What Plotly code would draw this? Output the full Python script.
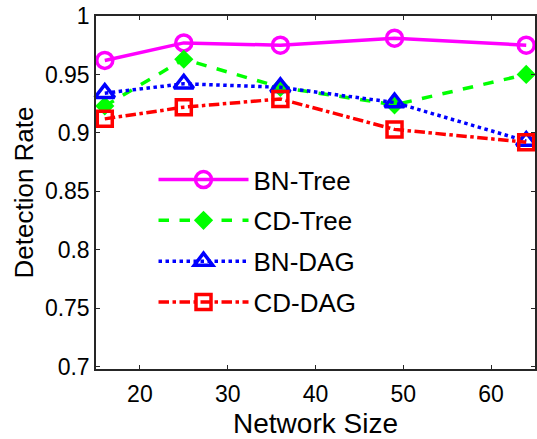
import plotly.graph_objects as go

network_size = [16, 25, 36, 49, 64]
bn_tree = [0.962, 0.977, 0.975, 0.981, 0.975]
cd_tree = [0.923, 0.963, 0.939, 0.924, 0.950]
bn_dag = [0.934, 0.942, 0.939, 0.926, 0.893]
cd_dag = [0.912, 0.922, 0.929, 0.903, 0.892]

series = [
    ("BN-Tree", bn_tree, "#ff00ff", "solid", "circle-open", 16),
    ("CD-Tree", cd_tree, "#00ff00", "dash", "diamond", 11),
    ("BN-DAG", bn_dag, "#0000ff", "dot", "triangle-up-open", 17),
    ("CD-DAG", cd_dag, "#ff0000", "dashdot", "square-open", 15),
]

fig = go.Figure()
for name, ys, color, dash, sym, size in series:
    fig.add_trace(go.Scatter(
        x=network_size, y=ys, name=name, legendgroup=name,
        mode="lines+markers",
        line=dict(color=color, width=3.5, dash=dash),
        marker=dict(symbol=sym, size=size, color=color,
                    line=dict(color=color, width=3.5)),
        cliponaxis=False,
    ))

font = "Liberation Sans, Arial, Helvetica, sans-serif"
axis_common = dict(
    showline=True, linecolor="#262626", linewidth=1.5, mirror="ticks",
    ticks="inside", ticklen=4, tickcolor="#262626", tickwidth=1,
    showgrid=False, zeroline=False, automargin=False,
    tickfont=dict(family=font, size=23, color="#000000"),
)

fig.update_layout(
    width=537, height=439,
    margin=dict(l=96, r=2, t=16, b=70),
    paper_bgcolor="white", plot_bgcolor="white",
    font=dict(family=font, color="#000000"),
    xaxis=dict(range=[15, 65], tickvals=[20, 30, 40, 50, 60],
               ticklabelstandoff=4,
               title=dict(text="Network Size", font=dict(size=28), standoff=9),
               **axis_common),
    yaxis=dict(range=[0.698, 1.0],
               tickvals=[0.7, 0.75, 0.8, 0.85, 0.9, 0.95, 1],
               ticktext=["0.7", "0.75", "0.8", "0.85", "0.9", "0.95", "1"],
               title=dict(text="Detection Rate", font=dict(size=26), standoff=4),
               **axis_common),
    legend=dict(x=0.131, y=0.603, xanchor="left", yanchor="top",
                bgcolor="rgba(0,0,0,0)", borderwidth=0,
                font=dict(family=font, size=26),
                itemwidth=90, tracegroupgap=4),
    showlegend=True,
)

fig.write_html(
    "out.html",
    config={"responsive": False, "displayModeBar": False},
    post_script="document.body.style.margin='0px';document.body.style.overflow='hidden';",
)
